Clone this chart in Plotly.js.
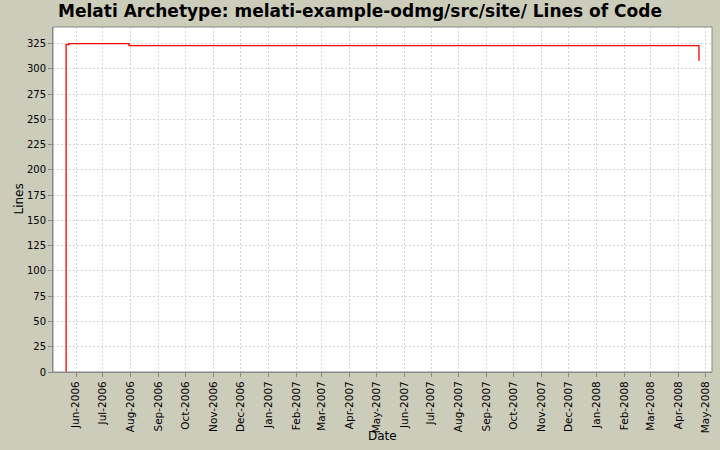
<!DOCTYPE html>
<html>
<head>
<meta charset="utf-8">
<script src="https://cdn.plot.ly/plotly-3.0.1.min.js"></script>
<style>html,body{margin:0;padding:0;background:#ccccbb;}#chart{width:720px;height:450px;}</style>
</head>
<body>
<div id="chart"></div>
<script>
var dates = ['2006-05-21', '2006-05-21', '2006-05-24', '2006-07-30', '2008-04-24'];
var lines = [0, 324, 325, 323, 308];
var yTicks = [0, 25, 50, 75, 100, 125, 150, 175, 200, 225, 250, 275, 300, 325];

var trace = {
  x: dates,
  y: lines,
  type: 'scatter',
  mode: 'lines',
  line: {shape: 'hv', color: '#ff0000', width: 1.3},
  hoverinfo: 'skip'
};

var layout = {
  width: 720,
  height: 450,
  paper_bgcolor: '#ccccbb',
  plot_bgcolor: '#ffffff',
  margin: {l: 53, r: 8, t: 27, b: 78, pad: 0},
  showlegend: false,
  font: {family: 'DejaVu Sans, sans-serif', color: '#000000', size: 11},
  title: {
    text: '<b>Melati Archetype: melati-example-odmg/src/site/ Lines of Code</b>',
    font: {family: 'DejaVu Sans, sans-serif', size: 17, color: '#000000'},
    x: 0.5, xanchor: 'center', y: 0.975, yanchor: 'middle'
  },
  xaxis: {
    type: 'date',
    range: ['2006-05-06 10:00', '2008-05-08 12:00'],
    tick0: '2006-06-01',
    dtick: 'M1',
    tickformat: '%b-%Y',
    tickangle: -90,
    ticks: 'outside',
    ticklen: 4,
    tickcolor: '#888888',
    tickfont: {size: 10.5},
    showgrid: true,
    gridcolor: '#d4d4d4',
    griddash: '2px,2px',
    showline: true,
    linecolor: '#888888',
    linewidth: 1,
    mirror: false,
    zeroline: false
  },
  yaxis: {
    range: [0, 341.5],
    tickvals: yTicks,
    ticktext: yTicks.map(String),
    ticks: 'outside',
    ticklen: 4,
    tickcolor: '#888888',
    tickfont: {size: 10},
    showgrid: true,
    gridcolor: '#d4d4d4',
    griddash: '2px,2px',
    showline: true,
    linecolor: '#888888',
    linewidth: 1,
    zeroline: false
  },
  annotations: [
    {text: 'Date', xref: 'paper', yref: 'paper', x: 0.5, y: -64 / 345, xanchor: 'center', yanchor: 'middle',
     showarrow: false, font: {size: 12}},
    {text: 'Lines', xref: 'paper', yref: 'paper', x: -35 / 659, y: 0.5, xanchor: 'center', yanchor: 'middle',
     textangle: -90, showarrow: false, font: {size: 12}}
  ],
  shapes: [{
    type: 'rect', xref: 'paper', yref: 'paper', x0: 0, x1: 1, y0: 0, y1: 1,
    line: {color: '#888888', width: 1}, fillcolor: 'rgba(0,0,0,0)', layer: 'above'
  }]
};

Plotly.newPlot('chart', [trace], layout, {displayModeBar: false, staticPlot: true});
</script>
</body>
</html>
